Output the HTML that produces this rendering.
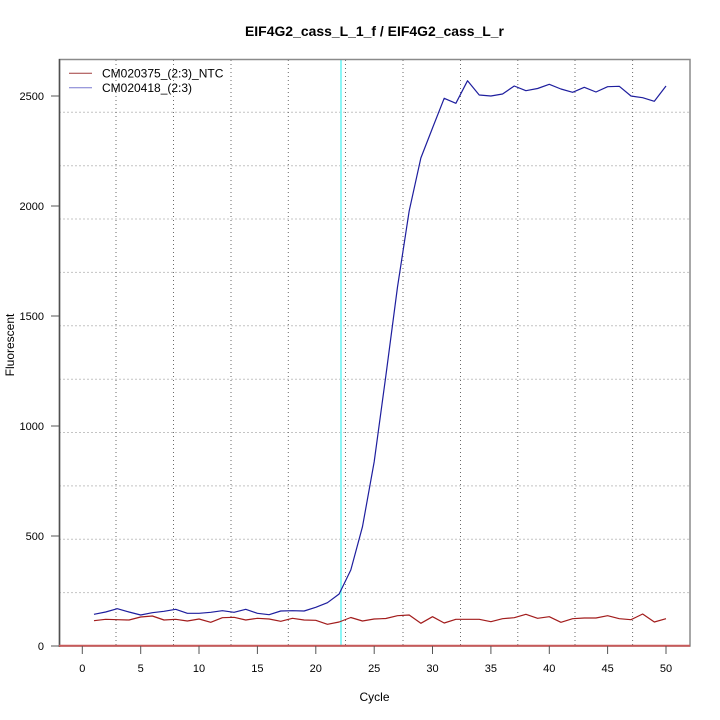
<!DOCTYPE html>
<html>
<head>
<meta charset="utf-8">
<style>
html,body{margin:0;padding:0;background:#fff;}
svg{display:block;}
text{font-family:"Liberation Sans",Arial,sans-serif;fill:#000;}
</style>
</head>
<body>
<svg width="720" height="720" viewBox="0 0 720 720" xmlns="http://www.w3.org/2000/svg">
<rect x="0" y="0" width="720" height="720" fill="#fff"/>
<!-- title -->
<text x="374.5" y="36" font-size="14" font-weight="bold" text-anchor="middle" textLength="259" lengthAdjust="spacingAndGlyphs">EIF4G2_cass_L_1_f / EIF4G2_cass_L_r</text>

<!-- horizontal dashed grid -->
<g stroke="#c4c4c4" stroke-width="1" stroke-dasharray="2,2">
<line x1="59" x2="690" y1="112.3" y2="112.3"/>
<line x1="59" x2="690" y1="165.7" y2="165.7"/>
<line x1="59" x2="690" y1="219.0" y2="219.0"/>
<line x1="59" x2="690" y1="272.4" y2="272.4"/>
<line x1="59" x2="690" y1="325.8" y2="325.8"/>
<line x1="59" x2="690" y1="379.2" y2="379.2"/>
<line x1="59" x2="690" y1="432.5" y2="432.5"/>
<line x1="59" x2="690" y1="485.9" y2="485.9"/>
<line x1="59" x2="690" y1="539.3" y2="539.3"/>
<line x1="59" x2="690" y1="592.6" y2="592.6"/>
</g>
<!-- vertical dotted grid -->
<g stroke="#6a6a6a" stroke-width="1" stroke-dasharray="1,3">
<line x1="116" x2="116" y1="60" y2="646"/>
<line x1="173.5" x2="173.5" y1="60" y2="646"/>
<line x1="231" x2="231" y1="60" y2="646"/>
<line x1="288.3" x2="288.3" y1="60" y2="646"/>
<line x1="345.5" x2="345.5" y1="60" y2="646"/>
<line x1="403" x2="403" y1="60" y2="646"/>
<line x1="460.5" x2="460.5" y1="60" y2="646"/>
<line x1="517.8" x2="517.8" y1="60" y2="646"/>
<line x1="575" x2="575" y1="60" y2="646"/>
<line x1="632.6" x2="632.6" y1="60" y2="646"/>
</g>

<!-- cyan threshold line -->
<line x1="341" x2="341" y1="59" y2="646" stroke="#7ff6f6" stroke-width="1.8"/>

<!-- frame -->
<rect x="59.5" y="59.5" width="630.5" height="586.5" fill="none" stroke="#8a8a8a" stroke-width="1.5"/>
<line x1="59.5" x2="59.5" y1="59" y2="647" stroke="#505050" stroke-width="1.5"/>

<!-- baseline red -->
<line x1="59" x2="690" y1="645.8" y2="645.8" stroke="#c85a5a" stroke-width="2"/>

<!-- series red -->
<polyline fill="none" stroke="#a21c1c" stroke-width="1.2" stroke-linejoin="round" points="
93.97,620.7 105.65,619.3 117.32,619.7 128.99,620 140.67,617 152.34,616 164.02,620 175.69,619.3 187.37,621 199.04,619
210.71,622.3 222.39,617.7 234.06,617.3 245.74,620 257.41,618.3 269.08,619 280.76,621.3 292.43,618.3 304.11,620 315.78,620.3
327.45,624.3 339.13,622 350.80,617.5 362.48,621 374.15,619 385.82,618.5 397.50,615.7 409.17,615 420.85,623.3 432.52,616.7
444.19,623 455.87,619.3 467.54,619.3 479.22,619.3 490.89,621.7 502.56,618.7 514.24,617.7 525.91,614.3 537.59,618.3 549.26,616.7
560.93,622.3 572.61,618.7 584.28,618 595.96,618 607.63,615.7 619.30,618.7 630.98,619.7 642.65,614 654.33,622 666.00,618.7"/>

<!-- series blue -->
<polyline fill="none" stroke="#1e1e9e" stroke-width="1.2" stroke-linejoin="round" points="
93.97,614.3 105.65,612 117.32,608.7 128.99,612 140.67,615 152.34,612.7 164.02,611.3 175.69,609.3 187.37,613.3 199.04,613.3
210.71,612.3 222.39,610.7 234.06,612.3 245.74,609.3 257.41,613.3 269.08,614.7 280.76,611 292.43,610.7 304.11,611 315.78,607.3
327.45,602.7 339.13,594 350.80,570 362.48,526.7 374.15,462 385.82,376 397.50,287 409.17,211 420.85,158 432.52,128
444.19,98.3 455.87,103.3 467.54,80.7 479.22,95 490.89,96 502.56,94 514.24,86 525.91,90.7 537.59,88.5 549.26,84.3
560.93,89 572.61,92.3 584.28,87.3 595.96,92 607.63,86.7 619.30,86.3 630.98,96 642.65,97.7 654.33,101.3 666.00,86"/>

<!-- y ticks -->
<g stroke="#555" stroke-width="1">
<line x1="51" x2="59" y1="646" y2="646"/>
<line x1="51" x2="59" y1="536" y2="536"/>
<line x1="51" x2="59" y1="426" y2="426"/>
<line x1="51" x2="59" y1="316" y2="316"/>
<line x1="51" x2="59" y1="206" y2="206"/>
<line x1="51" x2="59" y1="96" y2="96"/>
</g>
<g font-size="11" text-anchor="end">
<text x="44" y="650">0</text>
<text x="44" y="540">500</text>
<text x="44" y="430">1000</text>
<text x="44" y="320">1500</text>
<text x="44" y="210">2000</text>
<text x="44" y="100">2500</text>
</g>

<!-- x ticks -->
<g stroke="#555" stroke-width="1">
<line x1="82.3" x2="82.3" y1="646" y2="654"/>
<line x1="140.7" x2="140.7" y1="646" y2="654"/>
<line x1="199.0" x2="199.0" y1="646" y2="654"/>
<line x1="257.4" x2="257.4" y1="646" y2="654"/>
<line x1="315.8" x2="315.8" y1="646" y2="654"/>
<line x1="374.2" x2="374.2" y1="646" y2="654"/>
<line x1="432.5" x2="432.5" y1="646" y2="654"/>
<line x1="490.9" x2="490.9" y1="646" y2="654"/>
<line x1="549.3" x2="549.3" y1="646" y2="654"/>
<line x1="607.6" x2="607.6" y1="646" y2="654"/>
<line x1="666.0" x2="666.0" y1="646" y2="654"/>
</g>
<g font-size="11" text-anchor="middle">
<text x="82.3" y="672">0</text>
<text x="140.7" y="672">5</text>
<text x="199.0" y="672">10</text>
<text x="257.4" y="672">15</text>
<text x="315.8" y="672">20</text>
<text x="374.2" y="672">25</text>
<text x="432.5" y="672">30</text>
<text x="490.9" y="672">35</text>
<text x="549.3" y="672">40</text>
<text x="607.6" y="672">45</text>
<text x="666.0" y="672">50</text>
</g>

<!-- axis labels -->
<text x="374.5" y="701" font-size="12" text-anchor="middle">Cycle</text>
<text x="0" y="0" font-size="12" text-anchor="middle" transform="translate(14,345) rotate(-90)">Fluorescent</text>

<!-- legend -->
<line x1="69" x2="92" y1="73.3" y2="73.3" stroke="#a03c3c" stroke-width="1"/>
<line x1="69" x2="92" y1="87.7" y2="87.7" stroke="#7878d0" stroke-width="1"/>
<text x="102" y="77.5" font-size="12">CM020375_(2:3)_NTC</text>
<text x="102" y="92" font-size="12">CM020418_(2:3)</text>
</svg>
</body>
</html>
